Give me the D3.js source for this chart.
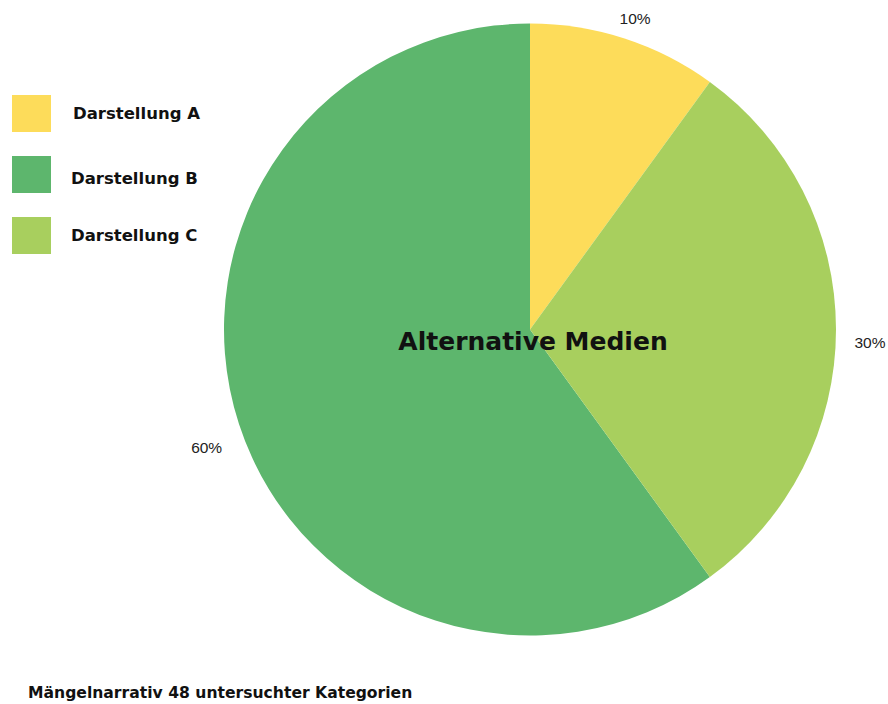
<!DOCTYPE html>
<html><head><meta charset="utf-8">
<script src="https://cdn.jsdelivr.net/npm/d3@7"></script>
<style>body{margin:0;background:#fff}</style>
</head><body>
<svg id="c" width="888" height="704"></svg>
<script>
const categories = ["Darstellung A", "Darstellung B", "Darstellung C"];
const values = [10, 60, 30];
const sliceOrder = ["Darstellung A", "Darstellung C", "Darstellung B"];
const labels = ["10%", "60%", "30%"];
const colors = ["#fddc5a", "#5db66d", "#a8cf5e"];
const centerTitle = "Alternative Medien";
const bottomTitle = "Mängelnarrativ 48 untersuchter Kategorien";

const svg = d3.select("#c");
const cx = 530, cy = 329.5, r = 306;
const color = d3.scaleOrdinal().domain(categories).range(colors);
const data = categories.map((c, i) => ({cat: c, v: values[i], label: labels[i]}));
const pie = d3.pie().value(d => d.v)
  .sort((a, b) => sliceOrder.indexOf(a.cat) - sliceOrder.indexOf(b.cat));
const arcs = pie(data);
const arc = d3.arc().innerRadius(0).outerRadius(r);
const labelArc = d3.arc().innerRadius(340).outerRadius(340);

const g = svg.append("g").attr("transform", `translate(${cx},${cy})`);
g.selectAll("path.slice").data(arcs).join("path")
  .attr("class", "slice").attr("d", arc).attr("fill", d => color(d.data.cat));

g.selectAll("text.lbl").data(arcs).join("text")
  .attr("class", "lbl")
  .attr("transform", d => `translate(${labelArc.centroid(d)})`)
  .attr("dy", "18")
  .attr("text-anchor", "middle")
  .attr("font-family", "Liberation Sans, Arial, sans-serif")
  .attr("font-size", 15.5).attr("fill", "#222")
  .text(d => d.data.label);

g.append("text").attr("x", 3).attr("y", 20)
  .attr("text-anchor", "middle")
  .attr("font-family", "DejaVu Sans, Verdana, sans-serif")
  .attr("font-weight", "bold").attr("font-size", 25).attr("fill", "#111")
  .text(centerTitle);

const leg = svg.append("g");
const ly = d3.scalePoint().domain(categories).range([95, 217]);
leg.selectAll("rect").data(categories).join("rect")
  .attr("x", 12).attr("y", d => ly(d)).attr("width", 39).attr("height", 37)
  .attr("fill", d => color(d));
leg.selectAll("text").data(categories).join("text")
  .attr("x", (d, i) => i === 0 ? 73 : 71).attr("y", (d, i) => ly(d) + (i === 1 ? 28 : 24))
  .attr("font-family", "DejaVu Sans, Verdana, sans-serif")
  .attr("font-weight", "bold").attr("font-size", 16.5).attr("fill", "#111")
  .text(d => d);

svg.append("text").attr("x", 28).attr("y", 698)
  .attr("font-family", "DejaVu Sans, Verdana, sans-serif")
  .attr("font-weight", "bold").attr("font-size", 15.6).attr("fill", "#111")
  .text(bottomTitle);
</script>
</body></html>
